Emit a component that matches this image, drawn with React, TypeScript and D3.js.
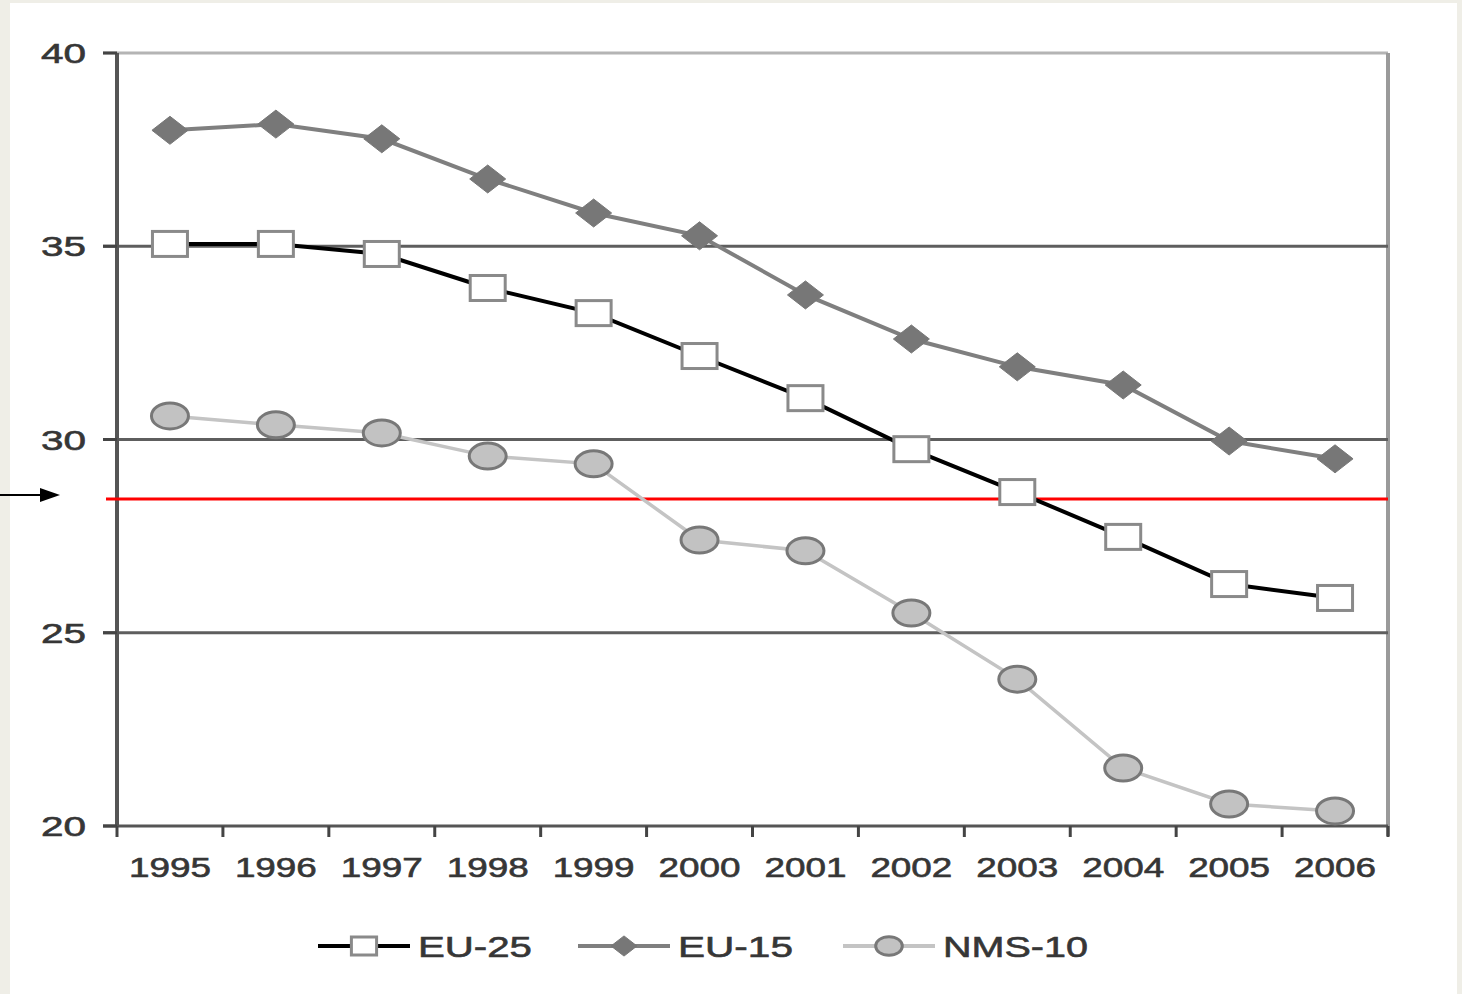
import * as React from 'react'
import * as d3 from 'd3'

const YEARS = ['1995', '1996', '1997', '1998', '1999', '2000', '2001', '2002', '2003', '2004', '2005', '2006']
const EU25 = [35.06, 35.06, 34.8, 33.92, 33.27, 32.16, 31.07, 29.75, 28.64, 27.48, 26.26, 25.9]
const EU15 = [38.0, 38.16, 37.78, 36.74, 35.86, 35.27, 33.74, 32.6, 31.88, 31.41, 29.96, 29.5]
const NMS10 = [30.61, 30.38, 30.17, 29.57, 29.37, 27.4, 27.12, 25.51, 23.8, 21.5, 20.57, 20.39]
const Y_TICKS = [20, 25, 30, 35, 40]
const GRID_VALUES = [25, 30, 35]
const REFERENCE_VALUE = 28.46
const LEGEND = ['EU-25', 'EU-15', 'NMS-10']

const FONT = 'Liberation Sans, Arial, Helvetica, sans-serif'
const TEXT_COLOR = '#363636'

function Marker({ kind, x, y, small }: { kind: string, x: number, y: number, small?: boolean }) {
    const k = small ? 0.72 : 1
    if (kind === 'EU-25') {
        const w = 35 * k, h = 25 * k
        return <rect x={x - w / 2} y={y - h / 2} width={w} height={h} fill="#fff" stroke="#8a8a8a" strokeWidth={3} />
    }
    if (kind === 'EU-15') {
        const w = 18 * k, h = 14 * k
        return <path d={`M${x - w},${y} L${x},${y - h} L${x + w},${y} L${x},${y + h} Z`} fill="#777" stroke="#777" strokeWidth={1} />
    }
    return <ellipse cx={x} cy={y} rx={18.5 * k} ry={13 * k} fill="#c2c2c2" stroke="#787878" strokeWidth={3} />
}

export default function App() {
    const W = 1462
    const H = 994
    const LEFT = 117
    const RIGHT = 1388
    const TOP = 53
    const BOTTOM = 826

    const x = d3.scaleBand().domain(YEARS).range([LEFT, RIGHT]).paddingInner(0).paddingOuter(0)
    const y = d3.scaleLinear().domain([20, 40]).range([BOTTOM, TOP])
    const cx = (yr: string) => (x(yr) as number) + x.bandwidth() / 2

    const line = d3.line<number>()
        .x((_, i) => cx(YEARS[i]))
        .y(d => y(d))

    const series = [
        { name: 'EU-25', values: EU25, color: '#000', width: 4 },
        { name: 'EU-15', values: EU15, color: '#7f7f7f', width: 4 },
        { name: 'NMS-10', values: NMS10, color: '#c4c4c4', width: 3.5 },
    ]
    const drawOrder = [series[2], series[0], series[1]]

    const tickEdges = YEARS.map(yr => x(yr) as number).concat([RIGHT])

    const legendX = [318, 578, 843]
    const legendTextLen = [114, 115, 145]
    const legendY = 946

    const textProps = {
        fontFamily: FONT, fill: TEXT_COLOR, stroke: TEXT_COLOR, strokeWidth: 0.6,
        lengthAdjust: 'spacingAndGlyphs',
    }

    return <svg width={W} height={H} viewBox={`0 0 ${W} ${H}`} style={{ position: 'absolute', left: 0, top: 0, display: 'block' }}>
        <rect x={0} y={0} width={W} height={H} fill="#efeee7" />
        <rect x={10} y={3} width={1447} height={H - 3} fill="#fff" />

        {/* top and right borders of the plot */}
        <line x1={103} x2={RIGHT} y1={y(40)} y2={y(40)} stroke="#b4b4b4" strokeWidth={3} />
        <line x1={RIGHT} x2={RIGHT} y1={TOP} y2={BOTTOM + 10} stroke="#9a9a9a" strokeWidth={4} />

        {GRID_VALUES.map(v =>
            <line key={v} x1={103} x2={RIGHT} y1={y(v)} y2={y(v)} stroke="#5e5e5e" strokeWidth={3} />
        )}

        {/* axes */}
        <line x1={LEFT} x2={LEFT} y1={TOP} y2={BOTTOM} stroke="#555" strokeWidth={4} />
        <line x1={103} x2={RIGHT} y1={BOTTOM} y2={BOTTOM} stroke="#555" strokeWidth={3} />
        {Y_TICKS.map(v =>
            <line key={v} x1={103} x2={LEFT} y1={y(v)} y2={y(v)} stroke="#444" strokeWidth={3} />
        )}
        {tickEdges.map((e, i) =>
            <line key={i} x1={e} x2={e} y1={BOTTOM} y2={BOTTOM + 11} stroke="#444" strokeWidth={3} />
        )}

        {Y_TICKS.map(v =>
            <text key={v} x={86} y={y(v) + 10} textAnchor="end" fontSize={28} textLength={45} {...textProps}>{v}</text>
        )}
        {YEARS.map(yr =>
            <text key={yr} x={cx(yr)} y={877} textAnchor="middle" fontSize={28} textLength={82} {...textProps}>{yr}</text>
        )}

        {/* red reference line and arrow */}
        <line x1={106} x2={RIGHT} y1={y(REFERENCE_VALUE)} y2={y(REFERENCE_VALUE)} stroke="#ff0000" strokeWidth={3} />
        <line x1={0} x2={44} y1={495} y2={495} stroke="#000" strokeWidth={2} />
        <path d="M40,488 L60,495 L40,502 Z" fill="#000" />

        {drawOrder.map(s =>
            <g key={s.name}>
                <path d={line(s.values) as string} fill="none" stroke={s.color} strokeWidth={s.width} />
                {s.values.map((v, i) => <Marker key={i} kind={s.name} x={cx(YEARS[i])} y={y(v)} />)}
            </g>
        )}

        {/* legend */}
        {series.map((s, i) =>
            <g key={s.name}>
                <line x1={legendX[i]} x2={legendX[i] + 92} y1={legendY} y2={legendY} stroke={s.color} strokeWidth={4} />
                <Marker kind={s.name} x={legendX[i] + 46} y={legendY} small />
                <text x={legendX[i] + 100} y={legendY + 11} fontSize={30} textLength={legendTextLen[i]} {...textProps}>{LEGEND[i]}</text>
            </g>
        )}
    </svg>
}
